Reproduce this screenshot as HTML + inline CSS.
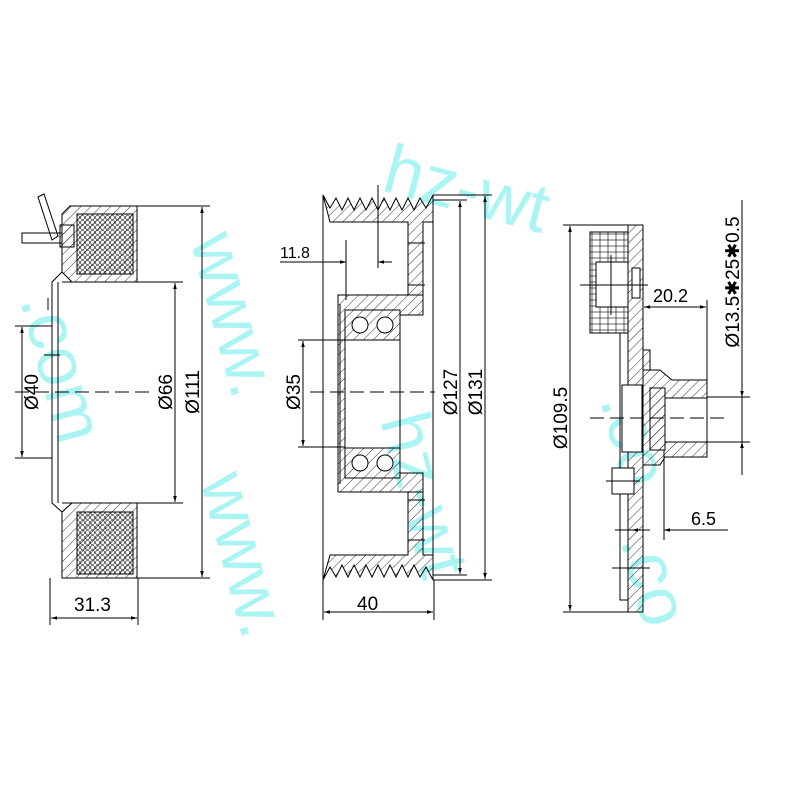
<!DOCTYPE html>
<html><head><meta charset="utf-8"><style>html,body{margin:0;padding:0;background:#fff}svg{display:block}</style></head>
<body>
<svg width="800" height="800" viewBox="0 0 800 800" xmlns="http://www.w3.org/2000/svg" font-family="Liberation Sans, sans-serif">
<defs>
<pattern id="h" width="7" height="7" patternUnits="userSpaceOnUse" patternTransform="rotate(45)"><line x1="0" y1="0" x2="0" y2="7" stroke="#000" stroke-width="0.8"/></pattern>
<pattern id="c" width="5" height="5" patternUnits="userSpaceOnUse"><circle cx="2.5" cy="2.5" r="2" fill="none" stroke="#000" stroke-width="0.6"/></pattern>
<pattern id="b" width="8" height="6" patternUnits="userSpaceOnUse"><rect x="0" y="0" width="8" height="6" fill="none" stroke="#000" stroke-width="0.6"/></pattern>
<marker id="a" viewBox="0 0 10 10" refX="10" refY="5" markerWidth="10" markerHeight="6" orient="auto-start-reverse"><path d="M0,2 L10,5 L0,8z" fill="#000"/></marker>
</defs>
<!-- watermark -->
<g fill="#8ff0f0" font-size="70" opacity="0.75">
<text transform="translate(190,240) rotate(75)">www.</text>
<text transform="translate(20,300) rotate(75)">.com</text>
<text transform="translate(380,190) rotate(15)">hz-wt</text>
<text transform="translate(200,480) rotate(75)">www.</text>
<text transform="translate(600,400) rotate(75)">.co</text>
<text transform="translate(380,420) rotate(75)">hz-wt</text>
<text transform="translate(620,540) rotate(75)">.co</text>
</g>
<g stroke="#000" stroke-width="1" fill="none">
<!-- LEFT PART -->
<path d="M62,214 L70,206 L137,206 L137,282 L72,282 L62,272 Z" fill="url(#h)"/>
<rect x="77" y="214" width="56" height="60" fill="url(#c)"/>
<path d="M62,578 L137,578 L137,503 L72,503 L62,512 Z" fill="url(#h)"/>
<rect x="77" y="512" width="56" height="62" fill="url(#c)"/>
<path d="M62,272 L52,282 L52,503 L62,512"/>
<line x1="58" y1="282" x2="58" y2="503"/>
<line x1="62" y1="282" x2="137" y2="282"/>
<line x1="62" y1="503" x2="137" y2="503"/>
<path d="M38,197 L44,194 L58,236 L52,240 Z"/>
<rect x="22" y="233" width="40" height="10"/>
<rect x="60" y="225" width="14" height="22" fill="url(#h)"/>
<line x1="44" y1="355" x2="60" y2="355"/>
<line x1="48" y1="298" x2="48" y2="310"/>
<line x1="15" y1="392" x2="150" y2="392" stroke-dasharray="14,6"/>
<line x1="137" y1="206" x2="210" y2="206"/><line x1="137" y1="578" x2="210" y2="578"/>
<line x1="137" y1="282" x2="183" y2="282"/><line x1="137" y1="503" x2="183" y2="503"/>
<line x1="202" y1="207" x2="202" y2="577" marker-start="url(#a)" marker-end="url(#a)"/>
<line x1="175" y1="283" x2="175" y2="502" marker-start="url(#a)" marker-end="url(#a)"/>
<line x1="15" y1="326" x2="52" y2="326"/><line x1="15" y1="458" x2="52" y2="458"/>
<line x1="22" y1="327" x2="22" y2="457" marker-start="url(#a)" marker-end="url(#a)"/>
<line x1="50" y1="578" x2="50" y2="625"/><line x1="138" y1="578" x2="138" y2="625"/>
<line x1="51" y1="618" x2="137" y2="618" marker-start="url(#a)" marker-end="url(#a)"/>
<!-- MIDDLE PART -->
<path d="M323,195 L323,580"/><path d="M433,195 L433,580"/>
<path d="M323,195 L330,208 L336,198 L342,210 L348,198 L354,210 L360,198 L366,210 L372,198 L378,210 L384,198 L390,210 L396,198 L402,210 L408,198 L414,210 L420,198 L426,208 L433,195 L433,222 L423,222 L423,295 L408,295 L408,222 L330,222 Z" fill="url(#h)"/>
<path d="M323,580 L330,567 L336,577 L342,565 L348,577 L354,565 L360,577 L366,565 L372,577 L378,565 L384,577 L390,565 L396,577 L402,565 L408,577 L414,565 L420,577 L426,567 L433,580 L433,555 L423,555 L423,492 L408,492 L408,555 L330,555 Z" fill="url(#h)"/>
<path d="M338,295 L423,295 L423,315 L400,315 L400,310 L345,310 L345,478 L400,478 L400,473 L423,473 L423,492 L338,492 Z" fill="url(#h)"/>
<rect x="345" y="310" width="55" height="30" fill="url(#h)"/>
<rect x="345" y="448" width="55" height="30" fill="url(#h)"/>
<circle cx="360" cy="325" r="8" fill="#fff"/><circle cx="385" cy="325" r="8" fill="#fff"/>
<circle cx="360" cy="463" r="8" fill="#fff"/><circle cx="385" cy="463" r="8" fill="#fff"/>
<line x1="340" y1="304" x2="340" y2="484"/><line x1="400" y1="340" x2="400" y2="448"/>
<line x1="310" y1="392" x2="435" y2="392" stroke-dasharray="14,6"/>
<line x1="298" y1="340" x2="345" y2="340"/><line x1="298" y1="447" x2="345" y2="447"/>
<line x1="303" y1="341" x2="303" y2="446" marker-start="url(#a)" marker-end="url(#a)"/>
<line x1="433" y1="195" x2="492" y2="195"/><line x1="433" y1="580" x2="492" y2="580"/>
<line x1="433" y1="200" x2="467" y2="200"/><line x1="433" y1="575" x2="467" y2="575"/>
<line x1="485" y1="196" x2="485" y2="579" marker-start="url(#a)" marker-end="url(#a)"/>
<line x1="460" y1="201" x2="460" y2="574" marker-start="url(#a)" marker-end="url(#a)"/>
<line x1="323" y1="580" x2="323" y2="620"/><line x1="434" y1="580" x2="434" y2="620"/>
<line x1="324" y1="612" x2="433" y2="612" marker-start="url(#a)" marker-end="url(#a)"/>
<line x1="280" y1="262" x2="338" y2="262"/>
<line x1="338" y1="262" x2="346" y2="262" marker-end="url(#a)"/>
<line x1="392" y1="262" x2="378" y2="262" marker-end="url(#a)"/>
<line x1="346" y1="240" x2="346" y2="300"/><line x1="378" y1="185" x2="378" y2="268"/>
<line x1="408" y1="243" x2="425" y2="243"/><line x1="408" y1="285" x2="425" y2="285"/>
<line x1="408" y1="500" x2="425" y2="500"/><line x1="408" y1="540" x2="425" y2="540"/>
<!-- RIGHT PART -->
<path d="M628,225 L643,225 L643,612 L628,612 Z" fill="url(#h)"/>
<rect x="590" y="232" width="38" height="101" fill="url(#b)"/>
<rect x="596" y="262" width="32" height="45" fill="#fff"/>
<rect x="632" y="268" width="8" height="30" fill="#fff"/>
<line x1="580" y1="285" x2="648" y2="285"/><line x1="611" y1="255" x2="611" y2="315"/>
<path d="M620,333 L620,600 L628,600"/>
<path d="M643,350 L650,350 L650,370 L643,370" fill="url(#h)"/>
<path d="M643,370 L660,370 L672,380 L707,380 L707,457 L665,457 L660,465 L643,465 Z" fill="url(#h)"/>
<rect x="650" y="388" width="15" height="62" fill="url(#h)"/>
<rect x="665" y="398" width="42" height="44" fill="#fff"/>
<rect x="622" y="385" width="20" height="67" fill="#fff"/>
<rect x="612" y="468" width="22" height="26" fill="#fff"/>
<line x1="606" y1="481" x2="640" y2="481"/>
<line x1="590" y1="418" x2="730" y2="418" stroke-dasharray="14,6"/>
<line x1="628" y1="225" x2="563" y2="225"/><line x1="628" y1="612" x2="563" y2="612"/>
<line x1="570" y1="226" x2="570" y2="611" marker-start="url(#a)" marker-end="url(#a)"/>
<line x1="707" y1="300" x2="707" y2="380"/>
<line x1="644" y1="307" x2="706" y2="307" marker-start="url(#a)" marker-end="url(#a)"/>
<line x1="707" y1="397" x2="750" y2="397"/><line x1="707" y1="442" x2="750" y2="442"/>
<line x1="742" y1="200" x2="742" y2="475"/>
<line x1="742" y1="375" x2="742" y2="397" marker-end="url(#a)"/>
<line x1="742" y1="465" x2="742" y2="442" marker-end="url(#a)"/>
<line x1="664" y1="450" x2="664" y2="540"/>
<line x1="615" y1="530" x2="632" y2="530"/>
<line x1="650" y1="530" x2="632" y2="530" marker-end="url(#a)"/>
<line x1="728" y1="530" x2="664" y2="530" marker-end="url(#a)"/>
<line x1="612" y1="568" x2="650" y2="568"/>
</g>
<g fill="#000" font-size="19">
<text x="74" y="611">31.3</text>
<text x="357" y="610">40</text>
<text x="280" y="258" font-size="16">11.8</text>
<text x="653" y="302" font-size="18">20.2</text>
<text x="691" y="525" font-size="18">6.5</text>
<text transform="translate(38,392) rotate(-90)" text-anchor="middle">Ø40</text>
<text transform="translate(172,392) rotate(-90)" text-anchor="middle">Ø66</text>
<text transform="translate(199,392) rotate(-90)" text-anchor="middle">Ø111</text>
<text transform="translate(300,392) rotate(-90)" text-anchor="middle">Ø35</text>
<text transform="translate(457,392) rotate(-90)" text-anchor="middle">Ø127</text>
<text transform="translate(482,392) rotate(-90)" text-anchor="middle">Ø131</text>
<text transform="translate(567,418) rotate(-90)" text-anchor="middle">Ø109.5</text>
<text transform="translate(739,282) rotate(-90)" text-anchor="middle">Ø13.5✱25✱0.5</text>
</g>
</svg>
</body></html>
